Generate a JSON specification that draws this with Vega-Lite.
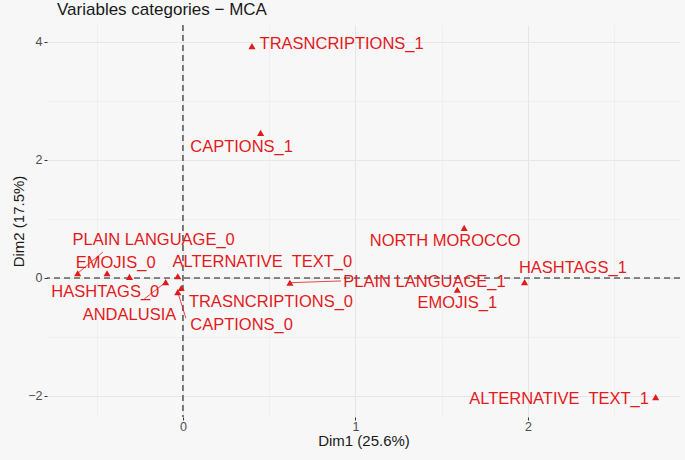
{
  "$schema": "https://vega.github.io/schema/vega-lite/v6.json",
  "width": 633,
  "height": 392,
  "autosize": "none",
  "padding": {"left": 47, "right": 5, "top": 25, "bottom": 43},
  "background": "#f7f7f7",
  "config": {
    "view": {"stroke": null},
    "font": "Liberation Sans"
  },
  "title": {
    "text": "Variables categories − MCA",
    "anchor": "start",
    "frame": "group",
    "fontSize": 17,
    "fontWeight": "normal",
    "color": "#1a1a1a",
    "font": "Liberation Sans",
    "dx": 10,
    "offset": 5
  },
  "data": {
    "values": [
      {"name": "TRASNCRIPTIONS_1", "x": 0.40, "y": 3.93, "lx": 0.92, "ly": 3.97},
      {"name": "CAPTIONS_1", "x": 0.45, "y": 2.46, "lx": 0.34, "ly": 2.22},
      {"name": "NORTH MOROCCO", "x": 1.63, "y": 0.85, "lx": 1.52, "ly": 0.63},
      {"name": "HASHTAGS_1", "x": 1.98, "y": -0.07, "lx": 2.26, "ly": 0.17},
      {"name": "EMOJIS_1", "x": 1.59, "y": -0.20, "lx": 1.59, "ly": -0.42},
      {"name": "PLAIN LANGUAGE_1", "x": 0.62, "y": -0.08, "lx": 1.40, "ly": -0.07, "sx": 0.916, "sy": -0.05},
      {"name": "ALTERNATIVE\u00a0 TEXT_1", "x": 2.74, "y": -2.02, "lx": 2.18, "ly": -2.05},
      {"name": "PLAIN LANGUAGE_0", "x": -0.61, "y": 0.08, "lx": -0.17, "ly": 0.64, "sx": -0.464, "sy": 0.44},
      {"name": "EMOJIS_0", "x": -0.44, "y": 0.08, "lx": -0.39, "ly": 0.25},
      {"name": "HASHTAGS_0", "x": -0.31, "y": 0.02, "lx": -0.45, "ly": -0.24},
      {"name": "ANDALUSIA", "x": -0.10, "y": -0.07, "lx": -0.31, "ly": -0.63, "sx": -0.232, "sy": -0.373},
      {"name": "ALTERNATIVE\u00a0 TEXT_0", "x": -0.03, "y": 0.03, "lx": 0.46, "ly": 0.27},
      {"name": "CAPTIONS_0", "x": -0.03, "y": -0.24, "lx": 0.34, "ly": -0.80, "sx": 0.017, "sy": -0.68},
      {"name": "TRASNCRIPTIONS_0", "x": -0.01, "y": -0.17, "lx": 0.51, "ly": -0.41}
    ]
  },
  "layer": [
    {
      "data": {"values": [{"v": 0}]},
      "mark": {"type": "rule", "color": "#1a1a1a", "strokeDash": [6, 4], "strokeWidth": 1.1},
      "encoding": {
        "x": {"field": "v", "type": "quantitative",
          "scale": {"domain": [-0.788, 2.881], "nice": false, "zero": false},
          "axis": {
            "values": [-0.5, 0, 0.5, 1, 1.5, 2, 2.5],
            "labelOverlap": false,
            "title": "Dim1 (25.6%)",
            "titleFontSize": 15, "titleFontWeight": "normal", "titleColor": "#1a1a1a", "titleFont": "Liberation Sans",
            "titlePadding": 1,
            "labelFontSize": 12.5, "labelColor": "#4d4d4d", "labelFont": "Liberation Sans",
            "labelExpr": "datum.value % 1 === 0 ? toString(datum.value) : ''",
            "labelPadding": 0,
            "domain": false,
            "tickColor": "#333333",
            "tickSize": 3,
            "tickOpacity": {"condition": {"test": "datum.value % 1 === 0", "value": 1}, "value": 0},
            "grid": true,
            "gridColor": "#e6e6e6",
            "gridWidth": {"condition": {"test": "datum.value % 1 === 0", "value": 1}, "value": 0.5}
          }
        }
      }
    },
    {
      "data": {"values": [{"v": 0}]},
      "mark": {"type": "rule", "color": "#1a1a1a", "strokeDash": [6, 4], "strokeWidth": 1.1},
      "encoding": {
        "y": {"field": "v", "type": "quantitative",
          "scale": {"domain": [-2.356, 4.288], "nice": false, "zero": false},
          "axis": {
            "values": [-2, -1, 0, 1, 2, 3, 4],
            "format": "d",
            "labelOverlap": false,
            "title": "Dim2 (17.5%)",
            "titleFontSize": 15, "titleFontWeight": "normal", "titleColor": "#1a1a1a", "titleFont": "Liberation Sans",
            "titleX": -29,
            "titleBaseline": "middle",
            "labelFontSize": 12.5, "labelColor": "#4d4d4d", "labelFont": "Liberation Sans",
            "labelExpr": "datum.value % 2 === 0 ? datum.label : ''",
            "labelPadding": 2,
            "domain": false,
            "tickColor": "#333333",
            "tickSize": 3,
            "tickOpacity": {"condition": {"test": "datum.value % 2 === 0", "value": 1}, "value": 0},
            "grid": true,
            "gridColor": "#e6e6e6",
            "gridWidth": {"condition": {"test": "datum.value % 2 === 0", "value": 1}, "value": 0.5}
          }
        }
      }
    },
    {
      "transform": [{"filter": "isValid(datum.sx)"}],
      "mark": {"type": "rule", "color": "#e31a1c", "strokeWidth": 0.8},
      "encoding": {
        "x": {"field": "x", "type": "quantitative"},
        "y": {"field": "y", "type": "quantitative"},
        "x2": {"field": "sx"},
        "y2": {"field": "sy"}
      }
    },
    {
      "mark": {"type": "point", "shape": "triangle-up", "filled": true, "color": "#e31a1c", "size": 50, "opacity": 1},
      "encoding": {
        "x": {"field": "x", "type": "quantitative"},
        "y": {"field": "y", "type": "quantitative"}
      }
    },
    {
      "mark": {"type": "text", "color": "#e31a1c", "fontSize": 16.5, "font": "Liberation Sans", "align": "center", "baseline": "middle"},
      "encoding": {
        "x": {"field": "lx", "type": "quantitative"},
        "y": {"field": "ly", "type": "quantitative"},
        "text": {"field": "name"}
      }
    }
  ]
}
